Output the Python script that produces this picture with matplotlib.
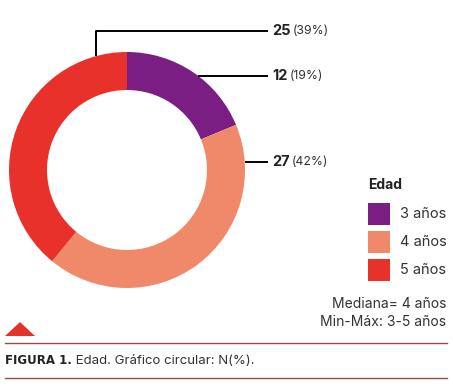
import matplotlib
matplotlib.use("Agg")
import matplotlib.pyplot as plt
import numpy as np
from matplotlib.patches import Polygon, Rectangle

categories = ["3 años", "4 años", "5 años"]
counts = [12, 27, 25]
percents = [19, 42, 39]
colors = ["#7B1E84", "#F0896A", "#E8312A"]
legend_title = "Edad"
stats_lines = ["Mediana= 4 años", "Min-Máx: 3-5 años"]
caption_bold = "FIGURA 1."
caption_text = " Edad. Gráfico circular: N(%)."

plt.rcParams['font.family'] = ['Inter', 'DejaVu Sans']

W, H = 453, 392
fig = plt.figure(figsize=(W / 100, H / 100), dpi=100)
ax = fig.add_axes([0, 0, 1, 1])

cx, cy, R, ring = 127, 170, 118, 38
# y-axis is inverted, so counterclock=True in data appears clockwise on screen
wedges, _ = ax.pie(counts, colors=colors, startangle=-90, counterclock=True,
                   center=(cx, cy), radius=R, wedgeprops=dict(width=ring, linewidth=0),
                   frame=True)
ax.set_xlim(0, W)
ax.set_ylim(H, 0)
ax.set_aspect('equal')
ax.axis('off')

label_x = 268

def pt(screen_deg, r=R):
    a = np.deg2rad(screen_deg)
    return cx + r * np.cos(a), cy + r * np.sin(a)

lw = 1.4
x0, y0 = pt(-90 + 0.19 * 360 / 2 + 3)
ax.plot([x0, label_x], [y0, y0], color='black', lw=lw, solid_capstyle='butt')
x1, y1 = pt(-4)
ax.plot([x1, label_x], [y1, y1], color='black', lw=lw, solid_capstyle='butt')
x2, y2 = pt(-105)
ax.plot([x2, x2, label_x], [y2, 31, 31], color='black', lw=lw, solid_capstyle='butt')

label_y = {0: y0, 1: y1, 2: 31}
inv = ax.transData.inverted()
for i in range(3):
    t = ax.text(label_x + 4, label_y[i], str(counts[i]), fontsize=10.5, fontweight='bold',
                va='center', ha='left', color='#222222')
    fig.canvas.draw()
    bb = t.get_window_extent()
    xe = ax.transData.inverted().transform((bb.x1, bb.y0))[0]
    ax.text(xe + 2.5, label_y[i], f"({percents[i]}%)", fontsize=8.8, va='center', ha='left',
            color='#333333')

# legend
ax.text(368, 185, legend_title, fontsize=10, fontweight='bold', va='center', ha='left',
        color='#222222')
for i, (c, lab) in enumerate(zip(colors, categories)):
    y = 203 + i * 28
    ax.add_patch(Rectangle((368, y), 22, 22, facecolor=c, edgecolor='none'))
    ax.text(400, y + 11, lab, fontsize=10.5, va='center', ha='left', color='#333333')

ax.text(446, 304, stats_lines[0], fontsize=10, va='center', ha='right', color='#333333')
ax.text(446, 322, stats_lines[1], fontsize=10, va='center', ha='right', color='#333333')

# bottom decorations
ax.add_patch(Polygon([(5, 336), (20, 322), (35, 336)], closed=True, facecolor='#E2332A',
                     edgecolor='none'))
ax.plot([5, 447], [343, 343], color='#9A4A4A', lw=1.0)
ax.plot([5, 447], [378, 378], color='#9A4A4A', lw=1.0)
t = ax.text(5, 361, caption_bold, fontsize=8.5, fontweight='bold', va='center', ha='left',
            color='#222222', family='DejaVu Sans')
fig.canvas.draw()
bb = t.get_window_extent()
xe = ax.transData.inverted().transform((bb.x1, bb.y0))[0]
ax.text(xe, 361, caption_text, fontsize=9.5, va='center', ha='left', color='#333333')

fig.savefig("out.png", dpi=100)
